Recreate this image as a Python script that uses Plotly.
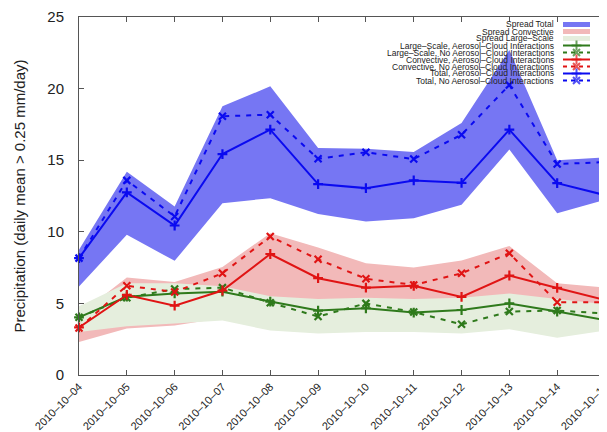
import plotly.graph_objects as go

dates = ['2010-10-04', '2010-10-05', '2010-10-06', '2010-10-07', '2010-10-08', '2010-10-09',
         '2010-10-10', '2010-10-11', '2010-10-12', '2010-10-13', '2010-10-14', '2010-10-15']
tick_text = [d.replace('-', '\u2013') for d in dates]

total_aci = [8.16, 12.75, 10.44, 15.43, 17.13, 13.33, 13.05, 13.59, 13.42, 17.13, 13.40, 12.56]
total_noaci = [8.16, 13.59, 11.07, 18.07, 18.18, 15.10, 15.55, 15.08, 16.78, 20.25, 14.73, 14.87]
total_lo = [6.18, 9.79, 7.97, 12.0, 12.35, 11.24, 10.72, 10.95, 11.89, 15.75, 11.3, 12.24]
total_hi = [8.74, 14.2, 11.77, 18.76, 20.16, 15.85, 15.8, 15.57, 17.6, 22.7, 15.0, 15.2]

conv_aci = [3.32, 5.59, 4.84, 5.9, 8.45, 6.76, 6.1, 6.23, 5.45, 6.95, 6.08, 5.24]
conv_noaci = [3.28, 6.23, 5.8, 7.1, 9.67, 8.08, 6.72, 6.29, 7.1, 8.5, 5.08, 5.08]
conv_lo = [2.3, 3.25, 3.45, 4.0, 4.5, 4.3, 4.3, 4.2, 4.0, 4.5, 4.0, 3.8]
conv_hi = [4.2, 6.8, 6.5, 7.55, 9.9, 8.9, 7.8, 7.5, 8.0, 9.0, 6.4, 6.1]

large_aci = [4.03, 5.47, 5.7, 5.82, 5.13, 4.5, 4.66, 4.36, 4.54, 5.0, 4.43, 3.84]
large_noaci = [4.03, 5.4, 6.0, 6.1, 5.05, 4.08, 5.0, 4.4, 3.54, 4.43, 4.5, 4.3]
large_lo = [3.0, 3.4, 3.6, 3.8, 3.1, 2.9, 3.0, 3.0, 2.9, 3.2, 2.6, 3.1]
large_hi = [4.8, 6.4, 6.4, 6.2, 5.5, 5.3, 5.4, 5.3, 5.4, 5.7, 5.3, 4.95]

legend_labels = ['Spread Total', 'Spread Convective', 'Spread Large\u2013Scale',
                 'Large\u2013Scale, Aerosol\u2013Cloud Interactions',
                 'Large\u2013Scale, No Aerosol\u2013Cloud Interactions',
                 'Convective, Aerosol\u2013Cloud Interactions',
                 'Convective, No Aerosol\u2013Cloud Interactions',
                 'Total, Aerosol\u2013Cloud Interactions',
                 'Total, No Aerosol\u2013Cloud Interactions']

BLUE = '#0a0af0'
RED = '#e01414'
GREEN = '#2f7a1c'
FILL_BLUE = '#7676f3'
FILL_RED = '#f2b9b9'
FILL_GREEN = '#e5eedd'
FONT = 'Liberation Sans, Arial, sans-serif'

fig = go.Figure()


def band(lo, hi, color):
    fig.add_trace(go.Scatter(x=dates, y=lo, mode='lines', line=dict(width=0, color=color),
                             showlegend=False, hoverinfo='skip'))
    fig.add_trace(go.Scatter(x=dates, y=hi, mode='lines', line=dict(width=0, color=color),
                             fill='tonexty', fillcolor=color, showlegend=False, hoverinfo='skip'))


band(total_lo, total_hi, FILL_BLUE)
band(conv_lo, conv_hi, FILL_RED)
band(large_lo, large_hi, FILL_GREEN)


def series(y, color, dashed):
    fig.add_trace(go.Scatter(
        x=dates, y=y, mode='lines+markers',
        line=dict(color=color, width=2, dash='5px,6px' if dashed else 'solid'),
        marker=dict(symbol='x-thin' if dashed else 'cross-thin', size=7,
                    line=dict(color=color, width=2.2)),
        showlegend=False, cliponaxis=False))


series(large_aci, GREEN, False)
series(large_noaci, GREEN, True)
series(conv_aci, RED, False)
series(conv_noaci, RED, True)
series(total_aci, BLUE, False)
series(total_noaci, BLUE, True)

# The page body has an 8px margin, so the figure starts 8px right/down of the window corner.
OFF = 8
W, H = 607, 432
PX_L, PX_R, PX_T, PX_B = 79 - OFF, 605 - OFF, 17 - OFF, 375 - OFF


def px_to_paper_x(px):
    return (px - OFF - PX_L) / (PX_R - PX_L)


def px_to_paper_y(py):
    return (PX_B - (py - OFF)) / (PX_B - PX_T)


# --- custom legend (gnuplot style: text on the left, sample on the right) ---
leg_text_x = px_to_paper_x(556)
s0, s1, sm = px_to_paper_x(563), px_to_paper_x(590), px_to_paper_x(576.5)
styles = [(FILL_BLUE, 'solid', None, 5), (FILL_RED, 'solid', None, 5), (FILL_GREEN, 'solid', None, 5),
          (GREEN, 'solid', 'cross-thin', 2), (GREEN, '4px,4px', 'x-thin', 2),
          (RED, 'solid', 'cross-thin', 2), (RED, '4px,4px', 'x-thin', 2),
          (BLUE, 'solid', 'cross-thin', 2), (BLUE, '4px,4px', 'x-thin', 2)]
for i, (lab, (col, dash, sym, w)) in enumerate(zip(legend_labels, styles)):
    yy = px_to_paper_y(24.5 + 7.0 * i)
    fig.add_annotation(x=leg_text_x, y=yy, xref='paper', yref='paper', text=lab,
                       showarrow=False, xanchor='right', yanchor='middle',
                       font=dict(family=FONT, size=8.5, color='#222'))
    fig.add_trace(go.Scatter(
        x=[s0, sm, s1], y=[yy, yy, yy], xaxis='x2', yaxis='y2',
        mode='lines+markers' if sym else 'lines',
        line=dict(color=col, width=w, dash=dash),
        marker=dict(symbol=sym or 'circle', size=[0, 7, 0], line=dict(color=col, width=2)),
        showlegend=False, hoverinfo='skip', cliponaxis=False))

fig.update_layout(
    width=W, height=H,
    margin=dict(l=PX_L, r=W - PX_R, t=PX_T, b=H - PX_B, pad=0, autoexpand=False),
    plot_bgcolor='white', paper_bgcolor='white',
    font=dict(family=FONT, color='#222'),
    showlegend=False,
    xaxis=dict(type='date', range=[dates[0], dates[-1]], tickvals=dates, ticktext=tick_text,
               tickangle=-45, tickfont=dict(size=11, family=FONT), ticks='inside', ticklen=5,
               tickcolor='#555', showline=True, linecolor='#555', linewidth=1, mirror='ticks',
               showgrid=False, zeroline=False, automargin=False, ticklabeloverflow='allow',
               ticklabelstandoff=0),
    yaxis=dict(range=[0, 25], dtick=5, tickfont=dict(size=15, family=FONT), ticks='inside',
               ticklen=5, tickcolor='#555', showline=True, linecolor='#555', linewidth=1,
               mirror='ticks', showgrid=False, zeroline=False, automargin=False,
               ticklabelstandoff=11, ticklabeloverflow='allow',
               title=dict(text='Precipitation (daily mean > 0.25 mm/day)',
                          font=dict(size=15, family=FONT), standoff=18)),
    xaxis2=dict(overlaying='x', range=[0, 1], visible=False),
    yaxis2=dict(overlaying='y', range=[0, 1], visible=False),
)

fig.write_html('out.html')
